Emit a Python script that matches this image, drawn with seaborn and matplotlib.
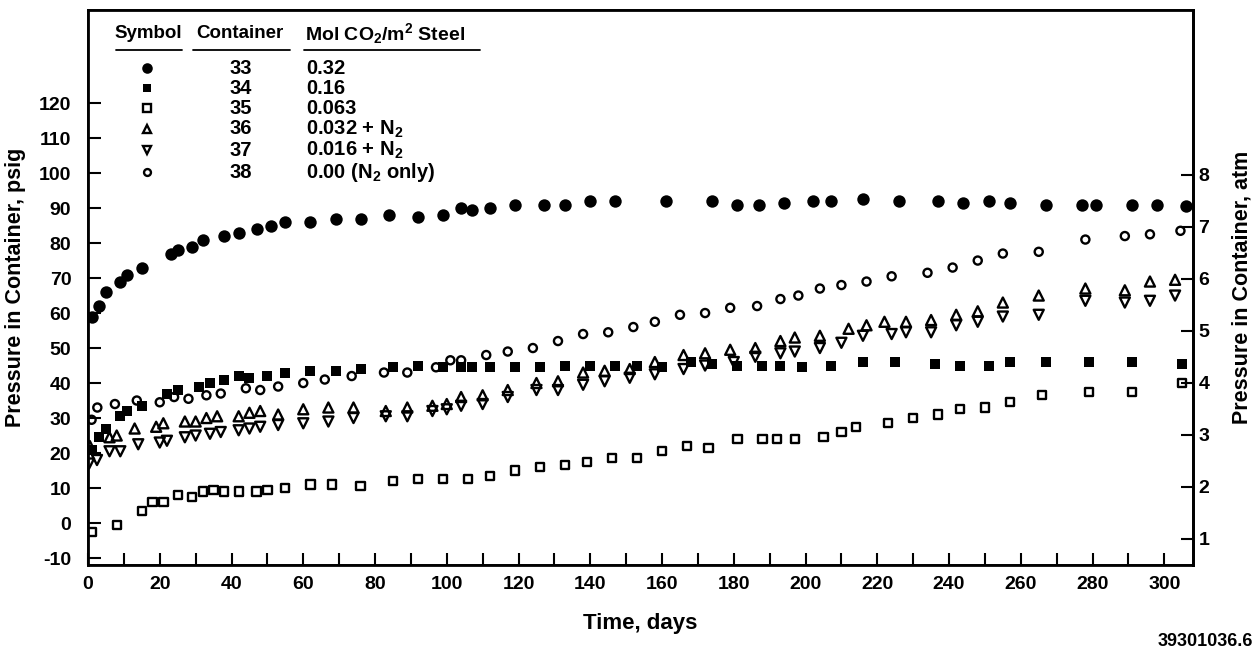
import numpy as np
import matplotlib
matplotlib.use("Agg")
import matplotlib.pyplot as plt
from matplotlib.lines import Line2D
import seaborn as sns

# container 33: 0.32 mol CO2/m2 (filled circle)
days_33 = [1, 3, 5, 9, 11, 15, 23, 25, 29, 32, 38, 42, 47, 51, 55, 62, 69, 76, 84, 92,
           99, 104, 107, 112, 119, 127, 133, 140, 147, 161, 174, 181, 187, 194, 202, 207,
           216, 226, 237, 244, 251, 257, 267, 277, 281, 291, 298, 306]
psig_33 = [59, 62, 66, 69, 71, 73, 77, 78, 79, 81, 82, 83, 84, 85, 86, 86, 87, 87, 88, 87.5,
           88, 90, 89.5, 90, 91, 91, 91, 92, 92, 92, 92, 91, 91, 91.5, 92, 92,
           92.5, 92, 92, 91.5, 92, 91.5, 91, 91, 91, 91, 91, 90.5]

# container 34: 0.16 (filled square)
days_34 = [1, 3, 5, 9, 11, 15, 22, 25, 31, 34, 38, 42, 45, 50, 55, 62, 69, 76, 85, 92,
           99, 104, 107, 112, 119, 126, 133, 140, 147, 153, 160, 168, 174, 181, 188, 193,
           199, 207, 216, 225, 236, 243, 251, 257, 267, 279, 291, 305]
psig_34 = [21, 24.5, 27, 30.5, 32, 33.5, 37, 38, 39, 40, 41, 42, 41.5, 42, 43, 43.5, 43.5, 44, 44.5, 45,
           44.5, 44.5, 44.5, 44.5, 44.5, 44.5, 45, 45, 45, 45, 44.5, 46, 45.5, 45, 45, 45,
           44.5, 45, 46, 46, 45.5, 45, 45, 46, 46, 46, 46, 45.5]

# container 35: 0.063 (open square)
days_35 = [1, 8, 15, 18, 21, 25, 29, 32, 35, 38, 42, 47, 50, 55, 62, 68, 76, 85, 92, 99,
           106, 112, 119, 126, 133, 139, 146, 153, 160, 167, 173, 181, 188, 192, 197, 205,
           210, 214, 223, 230, 237, 243, 250, 257, 266, 279, 291, 305]
psig_35 = [-2.5, -0.5, 3.5, 6, 6, 8, 7.5, 9, 9.5, 9, 9, 9, 9.5, 10, 11, 11, 10.5, 12, 12.5, 12.5,
           12.5, 13.5, 15, 16, 16.5, 17.5, 18.5, 18.5, 20.5, 22, 21.5, 24, 24, 24, 24, 24.5,
           26, 27.5, 28.5, 30, 31, 32.5, 33, 34.5, 36.5, 37.5, 37.5, 40]

# container 36: 0.032 + N2 (open up-triangle)
days_36 = [0.5, 6, 8, 13, 19, 21, 27, 30, 33, 36, 42, 45, 48, 53, 60, 67, 74, 83, 89, 96,
           100, 104, 110, 117, 125, 131, 138, 144, 151, 158, 166, 172, 179, 186, 193, 197,
           204, 212, 217, 222, 228, 235, 242, 248, 255, 265, 278, 289, 296, 303]
psig_36 = [22, 24.5, 25, 27, 27.5, 28.5, 29, 29, 30, 30.5, 30.5, 31.5, 32, 31, 32.5, 33, 33, 32, 33, 33.5,
           34, 36, 36.5, 38, 40, 40.5, 43, 43.5, 44, 46, 48, 48.5, 49.5, 50, 52, 53,
           53.5, 55.5, 56.5, 57.5, 57.5, 58, 59.5, 60.5, 63, 65, 67, 66.5, 69, 69.5]

# container 37: 0.016 + N2 (open down-triangle)
days_37 = [0.3, 2.5, 6, 9, 14, 20, 22, 27, 30, 34, 37, 42, 45, 48, 53, 60, 67, 74, 83, 89,
           96, 100, 104, 110, 117, 125, 131, 138, 144, 151, 158, 166, 172, 180, 186, 193,
           197, 204, 210, 216, 224, 228, 235, 242, 248, 255, 265, 278, 289, 296, 303]
psig_37 = [17, 18, 20.5, 20.5, 22.5, 23, 23.5, 24.5, 25, 25.5, 26, 26.5, 27, 27.5, 28, 28.5, 29, 30, 30.5, 30.5,
           32, 32.5, 33.5, 34, 36, 38, 38, 39.5, 40.5, 41.5, 42.5, 44, 45, 46, 47.5, 48.5,
           49, 50, 51.5, 53.5, 54, 54.5, 54.5, 56.5, 57.5, 59, 59.5, 63.5, 63, 63.5, 65]

# container 38: N2 only (open circle)
days_38 = [1, 2.6, 7.5, 13.6, 20, 24, 28, 33, 37, 44, 48, 53, 60, 66, 73.5, 82.5, 89, 97, 101, 104,
           111, 117, 124, 131, 138, 145, 152, 158, 165, 172, 179, 186.5, 193, 198, 204, 210,
           217, 224, 234, 241, 248, 255, 265, 278, 289, 296, 304.5]
psig_38 = [29.5, 33, 34, 35, 34.5, 36, 35.5, 36.5, 37, 38.5, 38, 39, 40, 41, 42, 43, 43, 44.5, 46.5, 46.5,
           48, 49, 50, 52, 54, 54.5, 56, 57.5, 59.5, 60, 61.5, 62, 64, 65, 67, 68,
           69, 70.5, 71.5, 73, 75, 77, 77.5, 81, 82, 82.5, 83.5]

containers = ["33", "34", "35", "36", "37", "38"]
mol_labels = ["0.32", "0.16", "0.063", "0.032 + N$_2$", "0.016 + N$_2$", "0.00 (N$_2$ only)"]
psig_ticks = list(range(-10, 130, 10))
atm_ticks = list(range(1, 9))
day_ticks = list(range(0, 310, 20))

sns.set_theme(style="ticks")
plt.rcParams["font.family"] = ["Liberation Sans", "DejaVu Sans"]
plt.rcParams["font.weight"] = "bold"
plt.rcParams["axes.unicode_minus"] = False
plt.rcParams["mathtext.fontset"] = "custom"
plt.rcParams["mathtext.rm"] = "Liberation Sans:bold"
plt.rcParams["mathtext.it"] = "Liberation Sans:bold"
plt.rcParams["mathtext.bf"] = "Liberation Sans:bold"
for key in ["text.color", "axes.labelcolor", "xtick.color", "ytick.color", "axes.edgecolor"]:
    plt.rcParams[key] = "black"

fig = plt.figure(figsize=(12.6, 6.58), dpi=100)
ax = fig.add_axes([88 / 1260, 1 - 565 / 658, 1105 / 1260, 555 / 658])

# marker styles per series: (marker, size, filled, edge width)
styles = [("o", 80, True, 0), ("s", 55, True, 0), ("s", 36, False, 1.7),
          ("^", 52, False, 1.7), ("v", 52, False, 1.7), ("o", 34, False, 1.7)]
series = [(days_33, psig_33), (days_34, psig_34), (days_35, psig_35),
          (days_36, psig_36), (days_37, psig_37), (days_38, psig_38)]

for (d, p), (m, s, filled, lw) in zip(series, styles):
    if filled:
        sns.scatterplot(x=d, y=p, ax=ax, marker=m, s=s, color="black", linewidth=0)
    else:
        sns.scatterplot(x=d, y=p, ax=ax, marker=m, s=s, color="black",
                        facecolor="none", edgecolor="black", linewidth=lw)

ax.set_xlim(0, 308)
ax.set_ylim(-12, 146.6)
ax.set_xticks(day_ticks)
ax.set_xticks(list(range(10, 310, 20)), minor=True)
ax.set_yticks(psig_ticks)
ax.tick_params(axis="both", which="both", direction="in", length=9, width=1.5,
               labelsize=14, pad=8)
ax.tick_params(axis="y", pad=12)
for sp in ax.spines.values():
    sp.set_linewidth(2)
    sp.set_visible(True)
ax.set_xlabel("Time, days", fontsize=16, fontweight="bold", labelpad=14)
ax.set_ylabel("Pressure in Container, psig", fontsize=15.5, fontweight="bold", labelpad=9)

ax2 = ax.twinx()
ax2.set_ylim(0.5, 11.17)
ax2.set_yticks(atm_ticks)
ax2.tick_params(axis="y", direction="in", length=9, width=1.5, labelsize=14, pad=4)
ax2.spines["right"].set_linewidth(2)
ax2.set_ylabel("Pressure in Container, atm", fontsize=15.5, fontweight="bold", labelpad=16)
for lab in ax.get_xticklabels() + ax.get_yticklabels() + ax2.get_yticklabels():
    lab.set_fontweight("bold")

# legend table (figure pixel layout)
def fx(px):
    return px / 1260

def fy(py):
    return 1 - py / 658

leg_fs = 14.5
hdr_y = 34
fig.text(fx(148), fy(hdr_y), "Symbol", ha="center", va="center", fontsize=13.5, fontweight="bold")
fig.text(fx(240), fy(hdr_y), "Container", ha="center", va="center", fontsize=13.5, fontweight="bold")
fig.text(fx(305), fy(hdr_y), "Mol CO$_2$/m$^2$ Steel", ha="left", va="center", fontsize=14,
         fontweight="bold")
for x0, x1 in [(116, 182), (193, 290), (304, 480)]:
    fig.add_artist(Line2D([fx(x0), fx(x1)], [fy(50), fy(50)], color="black", lw=1.3))

row_y = [68, 88, 108, 129, 150, 172]
for (m, s, filled, lw), cont, mol, ry in zip(styles, containers, mol_labels, row_y):
    ms = np.sqrt(s) * 0.85
    fig.add_artist(Line2D([fx(147)], [fy(ry)], marker=m, markersize=ms, linestyle="none",
                          markerfacecolor="black" if filled else "none",
                          markeredgecolor="black", markeredgewidth=lw if lw else 0))
    fig.text(fx(241), fy(ry), cont, ha="center", va="center", fontsize=leg_fs, fontweight="bold")
    fig.text(fx(306), fy(ry), mol, ha="left", va="center", fontsize=leg_fs, fontweight="bold")

fig.text(fx(1253), fy(641), "39301036.6", ha="right", va="center", fontsize=13, fontweight="bold")

fig.savefig("out.png", dpi=100, facecolor="white")
